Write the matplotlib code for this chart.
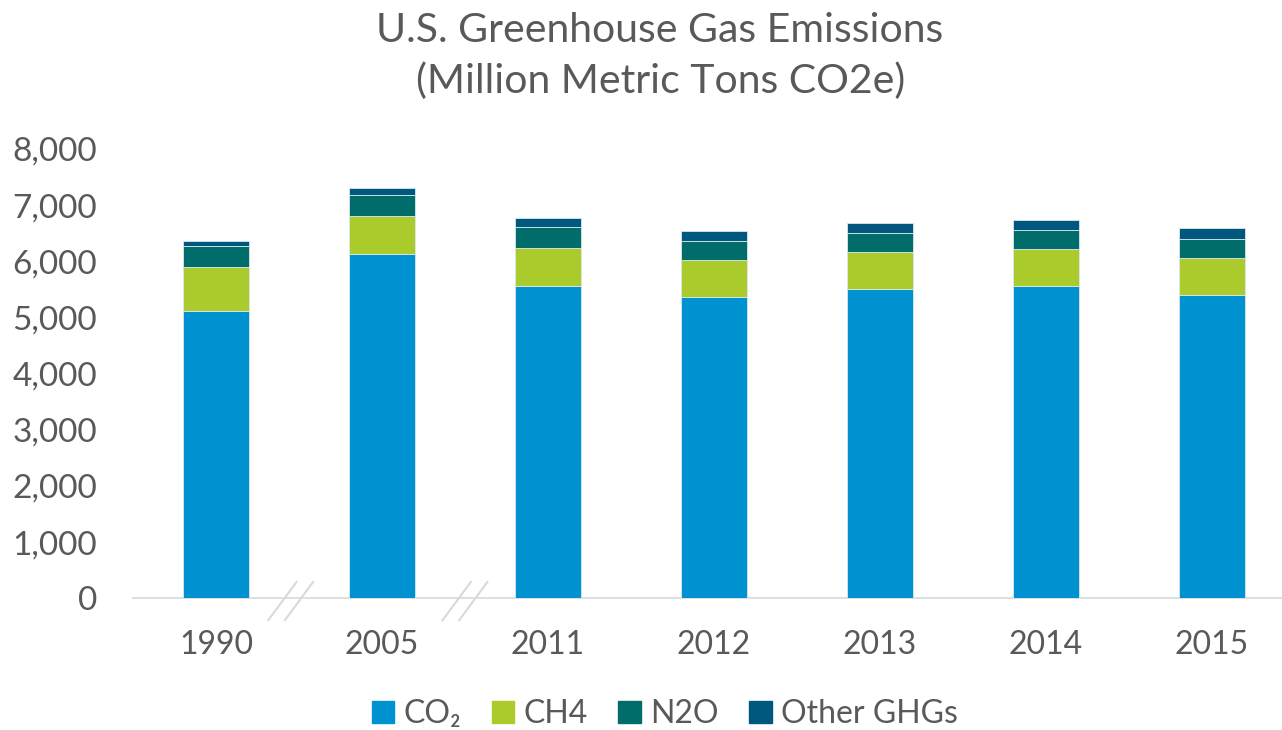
import matplotlib
matplotlib.use("Agg")
import matplotlib.pyplot as plt
import matplotlib.patches as mpatches
import numpy as np

# ─── Data (million metric tons CO2e) ─────────────────────────────────────────
years = ["1990", "2005", "2011", "2012", "2013", "2014", "2015"]
co2 = [5121, 6125, 5566, 5360, 5513, 5561, 5406]
ch4 = [778, 682, 671, 669, 653, 659, 654]
n2o = [369, 369, 369, 333, 339, 333, 332]
other = [94, 135, 161, 173, 172, 188, 196]

series_names = ["CO\u2082", "CH4", "N2O", "Other GHGs"]
series_colors = ["#0092D0", "#ABCB2C", "#006D6A", "#00587F"]
yticks = [0, 1000, 2000, 3000, 4000, 5000, 6000, 7000, 8000]

TEXT = "#595959"
FONT = ["Lato", "DejaVu Sans"]
plt.rcParams["font.family"] = FONT

fig = plt.figure(figsize=(12.82, 7.30), dpi=100)
ax = fig.add_axes([133 / 1282, 131.7 / 730, 1162 / 1282, 449.3 / 730])

x = np.arange(len(years))
bottom = np.zeros(len(years))
for vals, color in zip([co2, ch4, n2o, other], series_colors):
    ax.bar(x, vals, width=0.40, bottom=bottom, color=color,
           edgecolor="#dbe8ef", linewidth=0.6, zorder=3)
    bottom += np.array(vals)

ax.set_xlim(-0.5, len(years) - 0.5)
ax.set_ylim(0, 8000)
ax.set_yticks(yticks)
ax.set_yticklabels([f"{v:,}" for v in yticks])
ax.set_xticks(x)
ax.set_xticklabels(years)
ax.tick_params(axis="y", length=0, pad=26, labelsize=24, labelcolor=TEXT)
ax.tick_params(axis="x", length=0, pad=23, labelsize=23, labelcolor=TEXT)

for side in ["top", "right", "left"]:
    ax.spines[side].set_visible(False)
ax.spines["bottom"].set_color("#d9d9d9")
ax.spines["bottom"].set_linewidth(1.2)

# axis break marks between the non-consecutive years
for b in [0.45, 1.5]:
    for off in [-0.05, 0.05]:
        ax.plot([b + off - 0.085, b + off + 0.085], [-390, 290],
                color="#d9d9d9", linewidth=1.5, clip_on=False, zorder=4)

fig.text(660 / 1282, 1 - 31 / 730, "U.S. Greenhouse Gas Emissions",
         ha="center", va="center", fontsize=29.5, color=TEXT)
fig.text(661 / 1282, 1 - 81 / 730, "(Million Metric Tons CO2e)",
         ha="center", va="center", fontsize=29.5, color=TEXT)

handles = [mpatches.Patch(color=c, label=n) for n, c in zip(series_names, series_colors)]
fig.legend(handles=handles, loc="center", bbox_to_anchor=(665 / 1282, 1 - 714 / 730),
           ncol=4, frameon=False, labelcolor=TEXT,
           handlelength=0.7, handleheight=0.7, handletextpad=0.3,
           columnspacing=0.95, borderpad=0.1, prop={"family": FONT, "size": 23})

fig.savefig("out.png", dpi=100)
